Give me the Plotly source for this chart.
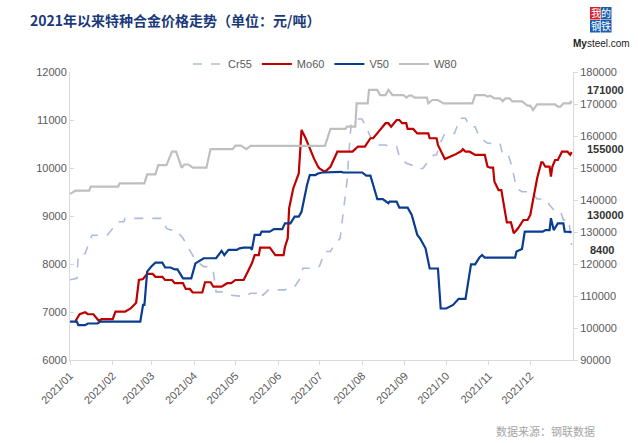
import plotly.graph_objects as go

# values (yuan / tonne)
cr55 = [("2021-01-01", 7670), ("2021-01-06", 7700), ("2021-01-07", 8190), ("2021-01-12", 8220),
        ("2021-01-16", 8535), ("2021-01-17", 8600), ("2021-01-28", 8600), ("2021-01-31", 8710),
        ("2021-02-05", 8880), ("2021-02-09", 8880), ("2021-02-10", 8950), ("2021-03-09", 8950),
        ("2021-03-12", 8740), ("2021-03-15", 8710), ("2021-03-19", 8710), ("2021-03-24", 8535),
        ("2021-03-29", 8290), ("2021-04-02", 8080), ("2021-04-08", 7945), ("2021-04-13", 7945),
        ("2021-04-15", 7840), ("2021-04-17", 7420), ("2021-04-22", 7420), ("2021-04-27", 7350),
        ("2021-05-08", 7320), ("2021-05-12", 7390), ("2021-05-16", 7390), ("2021-05-18", 7460),
        ("2021-05-21", 7350), ("2021-05-25", 7460), ("2021-06-06", 7460), ("2021-06-10", 7530),
        ("2021-06-13", 7530), ("2021-06-17", 7700), ("2021-06-19", 7910), ("2021-06-28", 7910),
        ("2021-07-01", 7950), ("2021-07-05", 8260), ("2021-07-09", 8260), ("2021-07-12", 8400),
        ("2021-07-16", 8535), ("2021-07-18", 9020), ("2021-07-21", 9715), ("2021-07-23", 10550),
        ("2021-07-24", 10900), ("2021-07-28", 11020), ("2021-08-01", 11020), ("2021-08-03", 10900),
        ("2021-08-07", 10650), ("2021-08-12", 10480), ("2021-08-18", 10480), ("2021-08-21", 10445),
        ("2021-08-26", 10445), ("2021-08-28", 10235), ("2021-09-02", 10100), ("2021-09-06", 10060),
        ("2021-09-08", 10060), ("2021-09-11", 9990), ("2021-09-14", 9990), ("2021-09-17", 10100),
        ("2021-09-22", 10270), ("2021-09-24", 10270), ("2021-09-26", 10480), ("2021-09-30", 10720),
        ("2021-10-07", 10720), ("2021-10-11", 11035), ("2021-10-15", 11035), ("2021-10-18", 10860),
        ("2021-10-22", 10860), ("2021-10-25", 10650), ("2021-10-31", 10515), ("2021-11-09", 10515),
        ("2021-11-11", 10270), ("2021-11-15", 10270), ("2021-11-17", 10100), ("2021-11-19", 9855),
        ("2021-11-21", 9575), ("2021-11-25", 9505), ("2021-12-02", 9505), ("2021-12-06", 9355),
        ("2021-12-12", 9355), ("2021-12-15", 9230), ("2021-12-19", 9090), ("2021-12-23", 9090),
        ("2021-12-25", 8920), ("2021-12-29", 8920), ("2021-12-30", 8670), ("2021-12-31", 8400)]

mo60 = [("2021-01-05", 102200), ("2021-01-08", 104300), ("2021-01-12", 104900), ("2021-01-14", 104300),
        ("2021-01-18", 104300), ("2021-01-22", 102200), ("2021-01-24", 102800), ("2021-02-01", 102800),
        ("2021-02-03", 105100), ("2021-02-10", 105100), ("2021-02-14", 106100), ("2021-02-18", 107900),
        ("2021-02-20", 115000), ("2021-02-23", 115300), ("2021-02-26", 116900), ("2021-03-02", 116900),
        ("2021-03-04", 116000), ("2021-03-09", 116000), ("2021-03-11", 115000), ("2021-03-16", 115000),
        ("2021-03-18", 114000), ("2021-03-24", 114000), ("2021-03-26", 112200), ("2021-03-29", 112200),
        ("2021-03-31", 111100), ("2021-04-07", 111100), ("2021-04-09", 114300), ("2021-04-13", 114300),
        ("2021-04-15", 112900), ("2021-04-21", 112900), ("2021-04-25", 114000), ("2021-04-28", 114000),
        ("2021-05-01", 115000), ("2021-05-07", 115000), ("2021-05-10", 117600), ("2021-05-13", 120200),
        ("2021-05-15", 122800), ("2021-05-18", 122800), ("2021-05-19", 125100), ("2021-05-26", 125100),
        ("2021-05-30", 122800), ("2021-06-05", 122800), ("2021-06-06", 125400), ("2021-06-08", 128000),
        ("2021-06-09", 137400), ("2021-06-12", 143600), ("2021-06-16", 148300), ("2021-06-18", 161900),
        ("2021-06-21", 159300), ("2021-06-24", 156100), ("2021-06-27", 153000), ("2021-06-30", 150400),
        ("2021-07-01", 149900), ("2021-07-05", 148800), ("2021-07-09", 150400), ("2021-07-14", 155100),
        ("2021-07-25", 155100), ("2021-07-29", 156700), ("2021-08-03", 156700), ("2021-08-07", 159300),
        ("2021-08-09", 159300), ("2021-08-14", 161900), ("2021-08-18", 164000), ("2021-08-20", 164000),
        ("2021-08-22", 162900), ("2021-08-26", 165000), ("2021-08-28", 165000), ("2021-08-30", 164000),
        ("2021-09-02", 164000), ("2021-09-03", 162200), ("2021-09-07", 162200), ("2021-09-10", 160800),
        ("2021-09-18", 160800), ("2021-09-19", 159300), ("2021-09-24", 159300), ("2021-09-25", 157200),
        ("2021-09-30", 152800), ("2021-10-07", 154100), ("2021-10-12", 155300), ("2021-10-13", 155900),
        ("2021-10-15", 155100), ("2021-10-18", 155100), ("2021-10-22", 154100), ("2021-10-29", 154100),
        ("2021-10-31", 150400), ("2021-11-02", 150100), ("2021-11-04", 150100), ("2021-11-05", 145700),
        ("2021-11-08", 143100), ("2021-11-10", 143100), ("2021-11-11", 140500), ("2021-11-13", 136300),
        ("2021-11-14", 133000), ("2021-11-17", 133000), ("2021-11-19", 129600), ("2021-11-22", 131100),
        ("2021-11-26", 133750), ("2021-11-29", 133750), ("2021-12-01", 135300), ("2021-12-03", 140000),
        ("2021-12-06", 146800), ("2021-12-09", 151800), ("2021-12-10", 151800), ("2021-12-12", 150400),
        ("2021-12-15", 150400), ("2021-12-16", 147300), ("2021-12-17", 150400), ("2021-12-19", 152500),
        ("2021-12-21", 152500), ("2021-12-24", 155100), ("2021-12-28", 155100), ("2021-12-30", 154100),
        ("2021-12-31", 155000)]

v50 = [("2021-01-01", 102000), ("2021-01-06", 102000), ("2021-01-07", 100900), ("2021-01-12", 100900),
       ("2021-01-14", 101400), ("2021-01-21", 101400), ("2021-01-23", 102000), ("2021-02-21", 102000),
       ("2021-02-23", 107200), ("2021-02-24", 107200), ("2021-02-26", 117600), ("2021-03-01", 119200),
       ("2021-03-04", 120400), ("2021-03-09", 120400), ("2021-03-11", 118900), ("2021-03-15", 118900),
       ("2021-03-18", 118300), ("2021-03-20", 118300), ("2021-03-24", 115500), ("2021-03-30", 115500),
       ("2021-04-02", 120200), ("2021-04-08", 121800), ("2021-04-17", 121800), ("2021-04-21", 124100),
       ("2021-04-23", 122800), ("2021-04-26", 124400), ("2021-05-02", 124400), ("2021-05-04", 124900),
       ("2021-05-07", 125100), ("2021-05-12", 125100), ("2021-05-13", 124400), ("2021-05-15", 129100),
       ("2021-05-19", 129100), ("2021-05-20", 130100), ("2021-05-26", 130100), ("2021-05-29", 130900),
       ("2021-06-04", 130900), ("2021-06-06", 132700), ("2021-06-10", 132700), ("2021-06-13", 134800),
       ("2021-06-16", 134800), ("2021-06-18", 136300), ("2021-06-22", 144700), ("2021-06-24", 147800),
       ("2021-06-28", 147800), ("2021-06-30", 148300), ("2021-07-03", 148600), ("2021-07-10", 148800),
       ("2021-07-17", 148800), ("2021-07-18", 148600), ("2021-08-01", 148600), ("2021-08-04", 147600),
       ("2021-08-07", 147600), ("2021-08-09", 144700), ("2021-08-12", 140300), ("2021-08-16", 140300),
       ("2021-08-19", 139500), ("2021-08-20", 139000), ("2021-08-21", 139500), ("2021-08-26", 139500),
       ("2021-08-28", 137600), ("2021-09-03", 137600), ("2021-09-06", 135300), ("2021-09-10", 129100),
       ("2021-09-12", 128000), ("2021-09-16", 124900), ("2021-09-19", 118600), ("2021-09-25", 118600),
       ("2021-09-27", 106100), ("2021-10-01", 106100), ("2021-10-06", 107200), ("2021-10-10", 109100),
       ("2021-10-15", 109100), ("2021-10-17", 114500), ("2021-10-19", 119900), ("2021-10-22", 119900),
       ("2021-10-25", 122000), ("2021-10-27", 122800), ("2021-10-29", 122000), ("2021-11-20", 122000),
       ("2021-11-21", 123900), ("2021-11-25", 124700), ("2021-11-27", 130100), ("2021-12-10", 130100),
       ("2021-12-12", 130600), ("2021-12-15", 130600), ("2021-12-16", 134300), ("2021-12-18", 130600),
       ("2021-12-21", 132700), ("2021-12-25", 132700), ("2021-12-26", 130100), ("2021-12-31", 130000)]

w80 = [("2021-01-01", 141900), ("2021-01-05", 142900), ("2021-01-15", 142900), ("2021-01-16", 144200),
       ("2021-02-05", 144200), ("2021-02-06", 145200), ("2021-02-24", 145200), ("2021-02-26", 148000),
       ("2021-03-04", 148000), ("2021-03-06", 150900), ("2021-03-12", 150900), ("2021-03-16", 155100),
       ("2021-03-19", 155100), ("2021-03-23", 150100), ("2021-03-25", 151100), ("2021-03-28", 151100),
       ("2021-03-31", 150100), ("2021-04-10", 150100), ("2021-04-13", 155900), ("2021-04-29", 155900),
       ("2021-05-01", 157000), ("2021-05-05", 157000), ("2021-05-09", 155900), ("2021-05-12", 156900),
       ("2021-07-05", 156900), ("2021-07-09", 162200), ("2021-07-20", 162200), ("2021-07-21", 162900),
       ("2021-07-27", 162900), ("2021-07-28", 170200), ("2021-08-05", 170200), ("2021-08-06", 174400),
       ("2021-08-12", 174400), ("2021-08-14", 172800), ("2021-08-18", 172800), ("2021-08-20", 174400),
       ("2021-08-23", 172800), ("2021-08-31", 172800), ("2021-09-02", 172000), ("2021-09-04", 172600),
       ("2021-09-06", 172600), ("2021-09-08", 172000), ("2021-09-17", 172000), ("2021-09-18", 170200),
       ("2021-09-21", 171250), ("2021-09-25", 171250), ("2021-09-29", 170200), ("2021-10-20", 170200),
       ("2021-10-22", 172800), ("2021-10-29", 172800), ("2021-10-31", 172300), ("2021-11-02", 172600),
       ("2021-11-05", 171750), ("2021-11-09", 171750), ("2021-11-11", 170900), ("2021-11-13", 171750),
       ("2021-11-16", 171750), ("2021-11-18", 170800), ("2021-11-25", 170800), ("2021-11-29", 169500),
       ("2021-12-01", 169500), ("2021-12-03", 168100), ("2021-12-06", 169900), ("2021-12-19", 169900),
       ("2021-12-21", 169200), ("2021-12-23", 169200), ("2021-12-25", 170200), ("2021-12-30", 170200),
       ("2021-12-31", 171000)]

months = ["2021-%02d-01" % m for m in range(1, 13)]
month_labels = ["2021/%02d" % m for m in range(1, 13)]
end_labels = [("171000", 171000, 11), ("155000", 155000, 3), ("130000", 130000, 17)]
cr_end_label = ("8400", 8400)

FONT = "Liberation Sans, Arial, sans-serif"
CJK = "Noto Sans CJK SC, sans-serif"
GREY = "#595959"
AXIS = "#d9d9d9"

# plot area in pixels, used to place the header items in paper coords
L, R, T, B = 70, 573, 72, 360


def px(x):
    return (x - L) / (R - L)


def py(y):
    return (B - y) / (B - T)


fig = go.Figure()
series = [("Cr55", cr55, "#adbcd9", "dash", 1.6, "y"),
          ("Mo60", mo60, "#c00000", "solid", 2.2, "y2"),
          ("V50", v50, "#0a3d8f", "solid", 2.2, "y2"),
          ("W80", w80, "#bfbfbf", "solid", 2.2, "y2")]
for name, pts, color, dash, w, ax in series:
    fig.add_trace(go.Scatter(x=[p[0] for p in pts], y=[p[1] for p in pts], name=name,
                             mode="lines", yaxis=ax,
                             line=dict(color=color, width=w, dash=dash)))

fig.update_layout(
    width=638, height=443,
    margin=dict(l=L, r=638 - R, t=T, b=443 - B, autoexpand=False),
    paper_bgcolor="white", plot_bgcolor="white",
    font=dict(family=FONT, size=11, color=GREY),
    showlegend=True,
    legend=dict(orientation="h", x=0.507, xanchor="center", y=py(64), yanchor="middle",
                font=dict(size=11, color=GREY), itemwidth=30, tracegroupgap=0),
    xaxis=dict(type="date", range=["2021-01-01", "2022-01-01"], tickvals=months,
               ticktext=month_labels, tickangle=-45, showgrid=False, showline=True,
               linecolor=AXIS, linewidth=1, ticks="outside", ticklen=4, tickcolor=AXIS,
               tickfont=dict(size=11, color=GREY), zeroline=False, automargin=False),
    yaxis=dict(range=[6000, 12000], dtick=1000, showgrid=False, showline=True, linecolor=AXIS,
               ticks="inside", ticklen=4, tickcolor=AXIS, tickformat="d",
               tickfont=dict(size=11, color=GREY), zeroline=False, automargin=False),
    yaxis2=dict(range=[90000, 180000], dtick=10000, overlaying="y", side="right",
                showgrid=False, showline=True, linecolor=AXIS, ticks="outside", ticklen=4,
                tickcolor=AXIS, tickformat="d", tickfont=dict(size=11, color=GREY),
                zeroline=False, automargin=False),
)

fig.add_annotation(text="<b>2021年以来特种合金价格走势（单位：元/吨）</b>", xref="paper", yref="paper",
                   x=px(28), y=py(20), xanchor="left", yanchor="middle", showarrow=False,
                   font=dict(family=CJK, size=14, color="#1a3a7a"))

# end-value labels
for txt, val, sh in end_labels:
    fig.add_annotation(text="<b>%s</b>" % txt, xref="paper", yref="y2", x=1.0, y=val,
                       xshift=12, yshift=sh, xanchor="left", yanchor="middle",
                       showarrow=False, font=dict(family=FONT, size=11, color="#333333"))
fig.add_annotation(text="<b>%s</b>" % cr_end_label[0], xref="paper", yref="y", x=1.0,
                   y=cr_end_label[1], xshift=15, yshift=-5, xanchor="left", yanchor="middle",
                   showarrow=False, font=dict(family=FONT, size=11, color="#333333"))

# Mysteel logo: four coloured cells with the characters drawn as one text block
cells = [("#d9222a", 0, 0), ("#1b5fad", 1, 0), ("#1b5fad", 0, 1), ("#1b5fad", 1, 1)]
for col, cx, cy in cells:
    x0 = 590 + cx * 11
    y0 = 7 + cy * 13
    fig.add_shape(type="rect", xref="paper", yref="paper",
                  x0=px(x0), x1=px(x0 + 10.5), y0=py(y0 + 12.5), y1=py(y0),
                  fillcolor=col, line=dict(width=0))
fig.add_annotation(text="我的<br>钢铁", xref="paper", yref="paper", x=px(600.5), y=py(19.5),
                   xanchor="center", yanchor="middle", showarrow=False, borderpad=0,
                   font=dict(family=CJK, size=10, color="white"))
fig.add_annotation(text="<b>My</b>steel.com", xref="paper", yref="paper", x=px(601),
                   y=py(43), xanchor="center", yanchor="middle", showarrow=False, borderpad=0,
                   font=dict(family=FONT, size=10, color="#222222"))

fig.add_annotation(text="数据来源：钢联数据", xref="paper", yref="paper", x=px(597),
                   y=py(431), xanchor="right", yanchor="middle", showarrow=False,
                   font=dict(family=CJK, size=11, color="#a6a6a6"))

# the page's default body margin would shift the whole chart by 8px
fig.write_html("out.html", config={"displayModeBar": False},
               post_script="document.body.style.margin='0';")
